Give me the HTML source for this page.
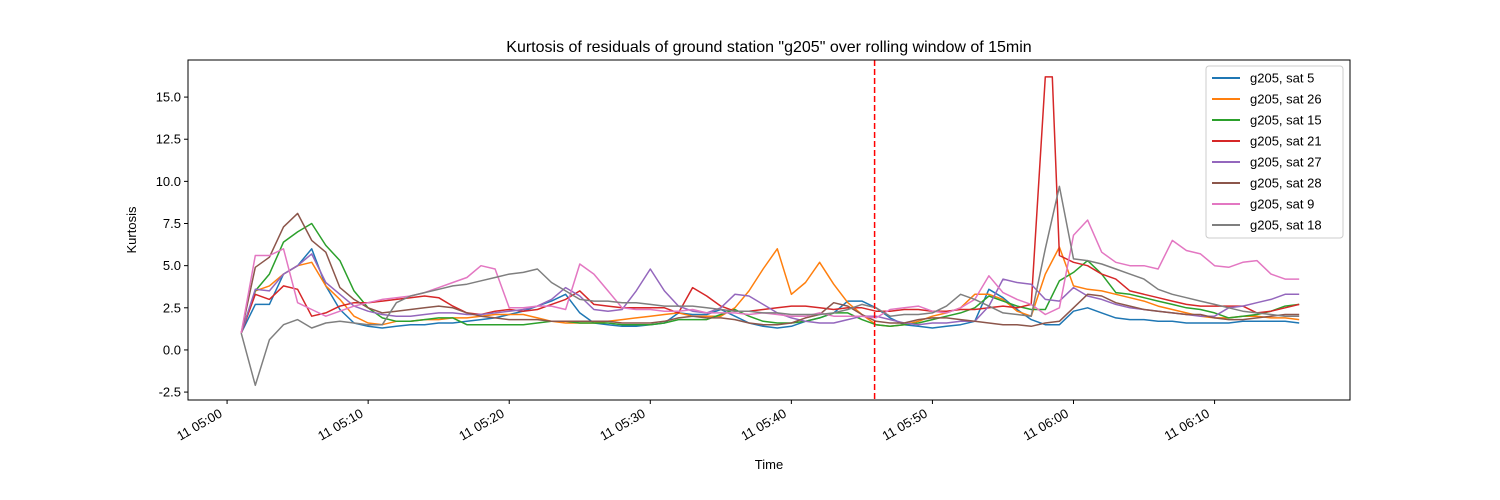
<!DOCTYPE html>
<html><head><meta charset="utf-8"><style>
body{margin:0;background:#fff;}
svg{display:block;font-family:"Liberation Sans","DejaVu Sans",sans-serif;}
</style></head><body>
<svg id="chart" width="1500" height="500" viewBox="0 0 1500 500">
<text x="769" y="52" font-size="16" text-anchor="middle" fill="#000">Kurtosis of residuals of ground station "g205" over rolling window of 15min</text>
<text x="769" y="469" font-size="13" text-anchor="middle">Time</text>
<text transform="translate(136,230) rotate(-90)" font-size="13" text-anchor="middle">Kurtosis</text>
<g id="grid"></g><g id="series"></g><g id="axes"></g><g id="legend"></g>
</svg>
<script>
const seriesNames = ["g205, sat 5","g205, sat 26","g205, sat 15","g205, sat 21","g205, sat 27","g205, sat 28","g205, sat 9","g205, sat 18"];
const seriesColors = ["#1f77b4","#ff7f0e","#2ca02c","#d62728","#9467bd","#8c564b","#e377c2","#7f7f7f"];
const startMinute = 1;
const sat5 = [1.0,2.7,2.7,4.5,5.0,6.0,3.8,2.4,1.6,1.4, 1.3,1.4,1.5,1.5,1.6,1.6,1.7,1.8,1.9,2.1, 2.3,2.6,2.9,3.3,2.2,1.6,1.5,1.4,1.4,1.5, 1.6,2.2,2.1,2.1,2.4,2.0,1.6,1.4,1.3,1.4, 1.7,1.9,2.2,2.9,2.9,2.5,1.9,1.5,1.4,1.3, 1.4,1.5,1.7,3.6,3.1,2.4,1.8,1.5,1.5,2.3, 2.5,2.2,1.9,1.8,1.8,1.7,1.7,1.6,1.6,1.6, 1.6,1.7,1.7,1.7,1.7,1.6];
const sat26 = [1.0,3.5,3.8,4.5,5.0,5.2,3.8,3.0,2.0,1.6, 1.5,1.7,1.7,1.8,1.8,1.9,1.9,2.0,2.1,2.1, 2.1,1.9,1.7,1.6,1.6,1.6,1.7,1.8,1.9,2.0, 2.1,2.2,2.0,2.0,2.0,2.5,3.5,4.8,6.0,3.3, 4.0,5.2,3.9,2.8,2.1,1.5,1.4,1.5,1.7,2.0, 2.2,2.5,3.3,3.3,3.0,2.3,2.0,4.5,6.1,3.8, 3.6,3.5,3.3,3.1,2.9,2.6,2.4,2.2,2.0,1.9, 1.9,2.0,2.0,1.9,1.9,1.8];
const sat15 = [1.0,3.5,4.5,6.4,7.0,7.5,6.2,5.3,3.5,2.5, 1.9,1.7,1.7,1.8,1.9,1.9,1.5,1.5,1.5,1.5, 1.5,1.6,1.7,1.7,1.6,1.6,1.6,1.5,1.5,1.5, 1.6,1.8,1.8,1.8,2.1,2.4,2.0,1.7,1.6,1.6, 1.7,1.9,2.2,2.2,1.8,1.5,1.4,1.5,1.6,1.8, 2.0,2.2,2.5,3.2,2.9,2.6,2.4,2.4,4.1,4.6, 5.3,4.5,3.4,3.3,3.1,2.9,2.7,2.5,2.4,2.2, 1.9,2.0,2.1,2.3,2.6,2.7];
const sat21 = [1.0,3.3,3.0,3.8,3.6,2.0,2.2,2.6,2.8,2.8, 2.9,3.0,3.1,3.2,3.1,2.6,2.2,2.1,2.3,2.4, 2.3,2.4,2.7,3.0,3.5,2.7,2.6,2.5,2.5,2.5, 2.5,2.2,3.7,3.2,2.6,2.3,2.3,2.4,2.5,2.6, 2.6,2.5,2.4,2.5,2.5,2.3,2.3,2.4,2.4,2.3, 2.3,2.4,2.4,2.5,2.6,2.5,2.7,16.2,16.2,5.6,5.2, 5.0,4.5,4.2,3.5,3.3,3.1,2.9,2.7,2.6,2.6, 2.6,2.6,2.2,2.3,2.5,2.7];
const sat21Minutes = [1,2,3,4,5,6,7,8,9,10, 11,12,13,14,15,16,17,18,19,20, 21,22,23,24,25,26,27,28,29,30, 31,32,33,34,35,36,37,38,39,40, 41,42,43,44,45,46,47,48,49,50, 51,52,53,54,55,56,57,58,58.5,59,60, 61,62,63,64,65,66,67,68,69,70, 71,72,73,74,75,76];
const sat27 = [1.0,3.6,3.5,4.5,5.0,5.7,4.0,3.3,2.6,2.3, 2.1,2.0,2.0,2.1,2.2,2.2,2.1,2.1,2.2,2.3, 2.4,2.6,3.0,3.7,3.2,2.4,2.3,2.4,3.5,4.8, 3.5,2.6,2.3,2.2,2.5,3.3,3.2,2.7,2.2,1.9, 1.7,1.6,1.6,1.8,2.0,2.0,1.8,1.6,1.5,1.6, 1.6,1.7,1.7,2.6,4.2,4.0,3.9,3.0,2.9,3.7, 3.2,3.0,2.7,2.5,2.4,2.3,2.2,2.1,2.0,2.0, 2.5,2.6,2.8,3.0,3.3,3.3];
const sat28 = [1.0,4.9,5.5,7.3,8.1,6.5,5.8,3.7,3.0,2.5, 2.2,2.3,2.4,2.5,2.6,2.5,2.2,2.0,1.9,1.8, 1.8,1.8,1.7,1.7,1.7,1.7,1.7,1.6,1.6,1.6, 1.7,1.9,2.0,1.9,1.9,1.8,1.6,1.5,1.5,1.6, 1.9,2.1,2.8,2.6,2.1,1.7,1.6,1.6,1.8,1.9, 1.9,1.8,1.7,1.6,1.5,1.5,1.4,1.6,1.7,2.5, 3.3,3.2,2.8,2.6,2.4,2.3,2.2,2.1,2.1,1.9, 1.8,1.8,1.9,2.0,2.1,2.1];
const sat9 = [1.0,5.6,5.6,6.0,2.8,2.4,2.0,2.3,2.6,2.8, 3.0,3.1,3.2,3.4,3.7,4.0,4.3,5.0,4.8,2.5, 2.5,2.6,2.6,2.4,5.1,4.5,3.5,2.5,2.4,2.4, 2.3,2.3,2.4,2.2,2.2,2.2,2.1,2.2,2.1,2.0, 2.0,2.2,2.0,2.0,2.0,1.9,2.4,2.5,2.6,2.3, 2.2,2.5,3.0,4.4,3.4,3.0,2.7,2.1,2.5,6.8, 7.7,5.8,5.2,5.0,5.0,4.8,6.5,5.9,5.7,5.0, 4.9,5.2,5.3,4.5,4.2,4.2];
const sat18 = [1.0,-2.1,0.6,1.5,1.8,1.3,1.6,1.7,1.6,1.5, 1.5,2.8,3.2,3.4,3.6,3.8,3.9,4.1,4.3,4.5, 4.6,4.8,4.0,3.5,3.0,2.9,2.9,2.8,2.8,2.7, 2.6,2.6,2.6,2.5,2.4,2.3,2.3,2.2,2.2,2.1, 2.1,2.1,2.2,2.4,2.7,2.5,2.0,2.1,2.1,2.2, 2.6,3.3,3.0,2.6,2.2,2.1,2.0,6.0,9.7,5.4, 5.3,5.1,4.8,4.5,4.2,3.6,3.3,3.1,2.9,2.7, 2.5,2.3,2.2,2.1,2.0,2.0];
const allSeries = [sat5,sat26,sat15,sat21,sat27,sat28,sat9,sat18];
const yTicks = [-2.5,0.0,2.5,5.0,7.5,10.0,12.5,15.0];
const xTickMinutes = [0,10,20,30,40,50,60,70];
const xTickLabels = ["11 05:00","11 05:10","11 05:20","11 05:30","11 05:40","11 05:50","11 06:00","11 06:10"];
const markerMinute = 45.9;

const L=188,R=1350,T=60,B=400;
const xMin=-2.77,xMax=79.6,yMin=-2.97,yMax=17.2;
const xs=t=>L+(t-xMin)/(xMax-xMin)*(R-L);
const ys=v=>B-(v-yMin)/(yMax-yMin)*(B-T);
const NS="http://www.w3.org/2000/svg";
function mk(tag,attrs,parent){const e=document.createElementNS(NS,tag);for(const k in attrs)e.setAttribute(k,attrs[k]);parent.appendChild(e);return e;}
const gS=document.getElementById('series'),gA=document.getElementById('axes'),gL=document.getElementById('legend');

allSeries.forEach((arr,i)=>{
  const tOf=j=>(arr===sat21?sat21Minutes[j]:startMinute+j);
  const pts=arr.map((v,j)=>xs(tOf(j)).toFixed(1)+","+ys(v).toFixed(1)).join(" ");
  const pl=mk('polyline',{points:pts,fill:"none",stroke:seriesColors[i],"stroke-width":1.5,"stroke-linejoin":"round"},gS);
  
  
});
const vl=mk('line',{x1:xs(markerMinute),x2:xs(markerMinute),y1:T,y2:B,stroke:"#ff0000","stroke-width":1.5,"stroke-dasharray":"6,3"},gS);



const frame=mk('rect',{x:L,y:T,width:R-L,height:B-T,fill:"none",stroke:"#000","stroke-width":1},gA);


yTicks.forEach(v=>{
  const y=ys(v);
  mk('line',{x1:L-4,x2:L,y1:y,y2:y,stroke:"#000"},gA);
  const t=mk('text',{x:L-7,y:y+4.5,"font-size":13,"text-anchor":"end"},gA);
  t.textContent=v.toFixed(1);
  
  
});
xTickMinutes.forEach((m,i)=>{
  const x=xs(m);
  mk('line',{x1:x,x2:x,y1:B,y2:B+4,stroke:"#000"},gA);
  const t=mk('text',{transform:`translate(${x-4},${B+16}) rotate(-30)`,"font-size":13,"text-anchor":"end"},gA);
  t.textContent=xTickLabels[i];
  
  
});

const lb=mk('rect',{x:1206,y:66,width:137,height:172,rx:3,fill:"#fff","fill-opacity":0.8,stroke:"#ccc"},gL);


seriesNames.forEach((n,i)=>{
  const y=78+i*21;
  const g=mk('g',{},gL);
  
  
  mk('line',{x1:1212,x2:1240,y1:y,y2:y,stroke:seriesColors[i],"stroke-width":2},g);
  const t=mk('text',{x:1250,y:y+4.5,"font-size":13},g);
  t.textContent=n;
});
</script>
</body></html>
